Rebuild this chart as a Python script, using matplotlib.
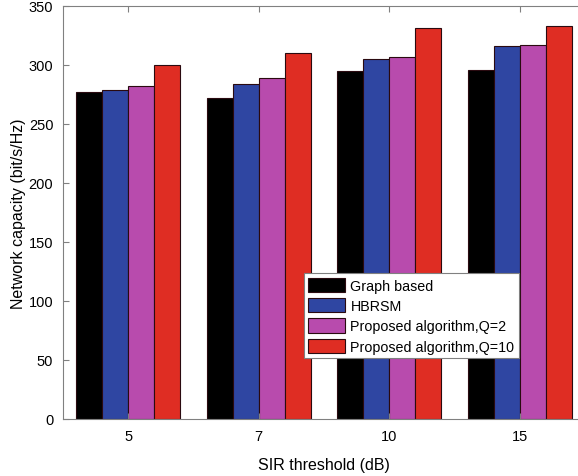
import numpy as np
import matplotlib.pyplot as plt

plt.rcParams['font.family'] = ['Liberation Sans', 'DejaVu Sans']

sir_labels = ['5', '7', '10', '15']
graph_based = [277, 272, 295, 296]
hbrsm = [279, 284, 305, 316]
proposed_q2 = [282, 289, 307, 317]
proposed_q10 = [300, 310, 331, 333]

series = [graph_based, hbrsm, proposed_q2, proposed_q10]
names = ['Graph based', 'HBRSM', 'Proposed algorithm,Q=2', 'Proposed algorithm,Q=10']
colors = ['#000000', '#2f46a2', '#b84bad', '#df2d23']

fig = plt.figure(figsize=(5.78, 4.77), dpi=100)
ax = fig.add_axes([63/578, 57/477, 522/578, 413/477])

x = np.arange(1, len(sir_labels) + 1)
w = 0.2
for i, (vals, name, c) in enumerate(zip(series, names, colors)):
    ax.bar(x + (i - 1.5) * w, vals, width=w, color=c, edgecolor='#2a0a10',
           linewidth=0.8, label=name)

ax.set_xlim(0.5, 4.5)
ax.set_ylim(0, 350)
ax.set_xticks(x)
ax.set_xticklabels(sir_labels)
ax.set_yticks(range(0, 351, 50))
ax.tick_params(direction='in', top=True, right=True, labelsize=10.5,
               color='#808080', length=4, pad=7)
for s in ax.spines.values():
    s.set_color('#808080')
    s.set_linewidth(0.8)

ax.set_xlabel('SIR threshold (dB)', fontsize=11.5, labelpad=10)
ax.set_ylabel('Network capacity (bit/s/Hz)', fontsize=11.5, labelpad=2)

leg = ax.legend(loc='lower left', bbox_to_anchor=(241/522, 61/413), fontsize=10.3,
                frameon=True, fancybox=False, framealpha=1, borderpad=0.3,
                labelspacing=0.38, handlelength=2.6, handleheight=1.15,
                handletextpad=0.35, borderaxespad=0)
leg.get_frame().set_edgecolor('#808080')
leg.get_frame().set_linewidth(0.8)

fig.savefig('out.png', dpi=100)
